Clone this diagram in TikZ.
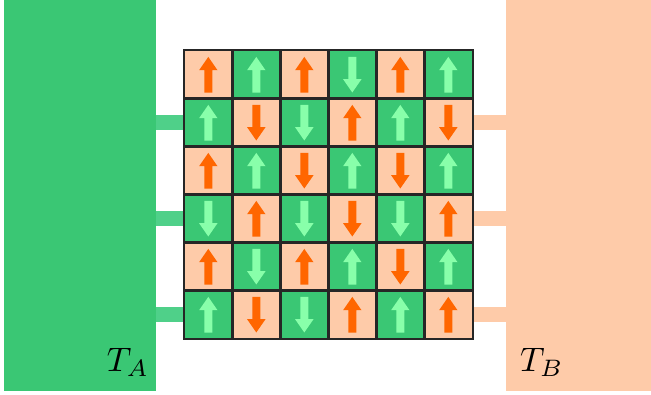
\documentclass[tikz,border=0pt]{standalone}
\definecolor{bathgreen}{HTML}{3AC774}
\definecolor{bathpeach}{HTML}{FECBA9}
\definecolor{barA}{HTML}{4FD089}
\definecolor{spinorange}{HTML}{FF6600}
\definecolor{spinmint}{HTML}{88FFAA}
\definecolor{gridline}{HTML}{262626}
\tikzset{
  bath/.style={draw=none, inner sep=0pt, anchor=north west},
  cellbox/.style={draw=gridline, line width=1.3pt, minimum size=48pt, inner sep=0pt},
  link/.style={line width=15pt},
  templabel/.style={inner sep=0pt, anchor=base west}
}
\begin{document}
\begin{tikzpicture}[x=1pt, y=-1pt]
  \useasboundingbox (0,0) rectangle (651,394);
  % heat baths
  \node[bath, fill=bathgreen, minimum width=151.5pt, minimum height=391pt] (ta) at (4.2,0) {};
  \node[bath, fill=bathpeach, minimum width=145pt, minimum height=391pt] (tb) at (506,0) {};
  % spin lattice cells
  \foreach \r in {1,...,6}{
    \foreach \c in {1,...,6}{
      \pgfmathtruncatemacro{\parity}{mod(\r+\c,2)}
      \ifnum\parity=0
        \node[cellbox, fill=bathpeach] (c-\r-\c) at ({184.3+48*(\c-0.5)},{50.7+48*(\r-0.5)}) {};
      \else
        \node[cellbox, fill=bathgreen] (c-\r-\c) at ({184.3+48*(\c-0.5)},{50.7+48*(\r-0.5)}) {};
      \fi
    }
  }
  % couplings between baths and lattice rows
  \foreach \r in {2,4,6}{
    \draw[link, barA] (ta.east |- c-\r-1.west) -- (c-\r-1.west);
    \draw[link, bathpeach] (c-\r-6.east) -- (tb.west |- c-\r-6.east);
  }
  % redraw cell borders over the couplings
  \foreach \r in {1,...,6}{
    \foreach \c in {1,...,6}{
      \draw[gridline, line width=1.3pt] (c-\r-\c.north west) rectangle (c-\r-\c.south east);
    }
  }
  % spins: +1 up, -1 down
  \foreach \r/\row in {1/{1,1,1,-1,1,1}, 2/{1,-1,-1,1,1,-1}, 3/{1,1,-1,1,-1,1},
                      4/{-1,1,-1,-1,-1,1}, 5/{1,-1,1,1,-1,1}, 6/{1,-1,-1,1,1,1}}{
    \foreach \d [count=\c] in \row {
      \pgfmathtruncatemacro{\parity}{mod(\r+\c,2)}
      \ifnum\parity=0 \def\ac{spinorange}\else\def\ac{spinmint}\fi
      \begin{scope}[shift={(c-\r-\c.center)}, yscale=\d]
        \fill[\ac] (-4,17.8) -- (-4,-4.5) -- (-9.2,-4.5) -- (0,-17.8)
                   -- (9.2,-4.5) -- (4,-4.5) -- (4,17.8) -- cycle;
      \end{scope}
    }
  }
  % bath temperatures
  \node[templabel] (la) at (106.7,371.7) {\scalebox{3.4}{$T_A$}};
  \node[templabel] (lb) at (520,371.7) {\scalebox{3.4}{$T_B$}};
\end{tikzpicture}
\end{document}
